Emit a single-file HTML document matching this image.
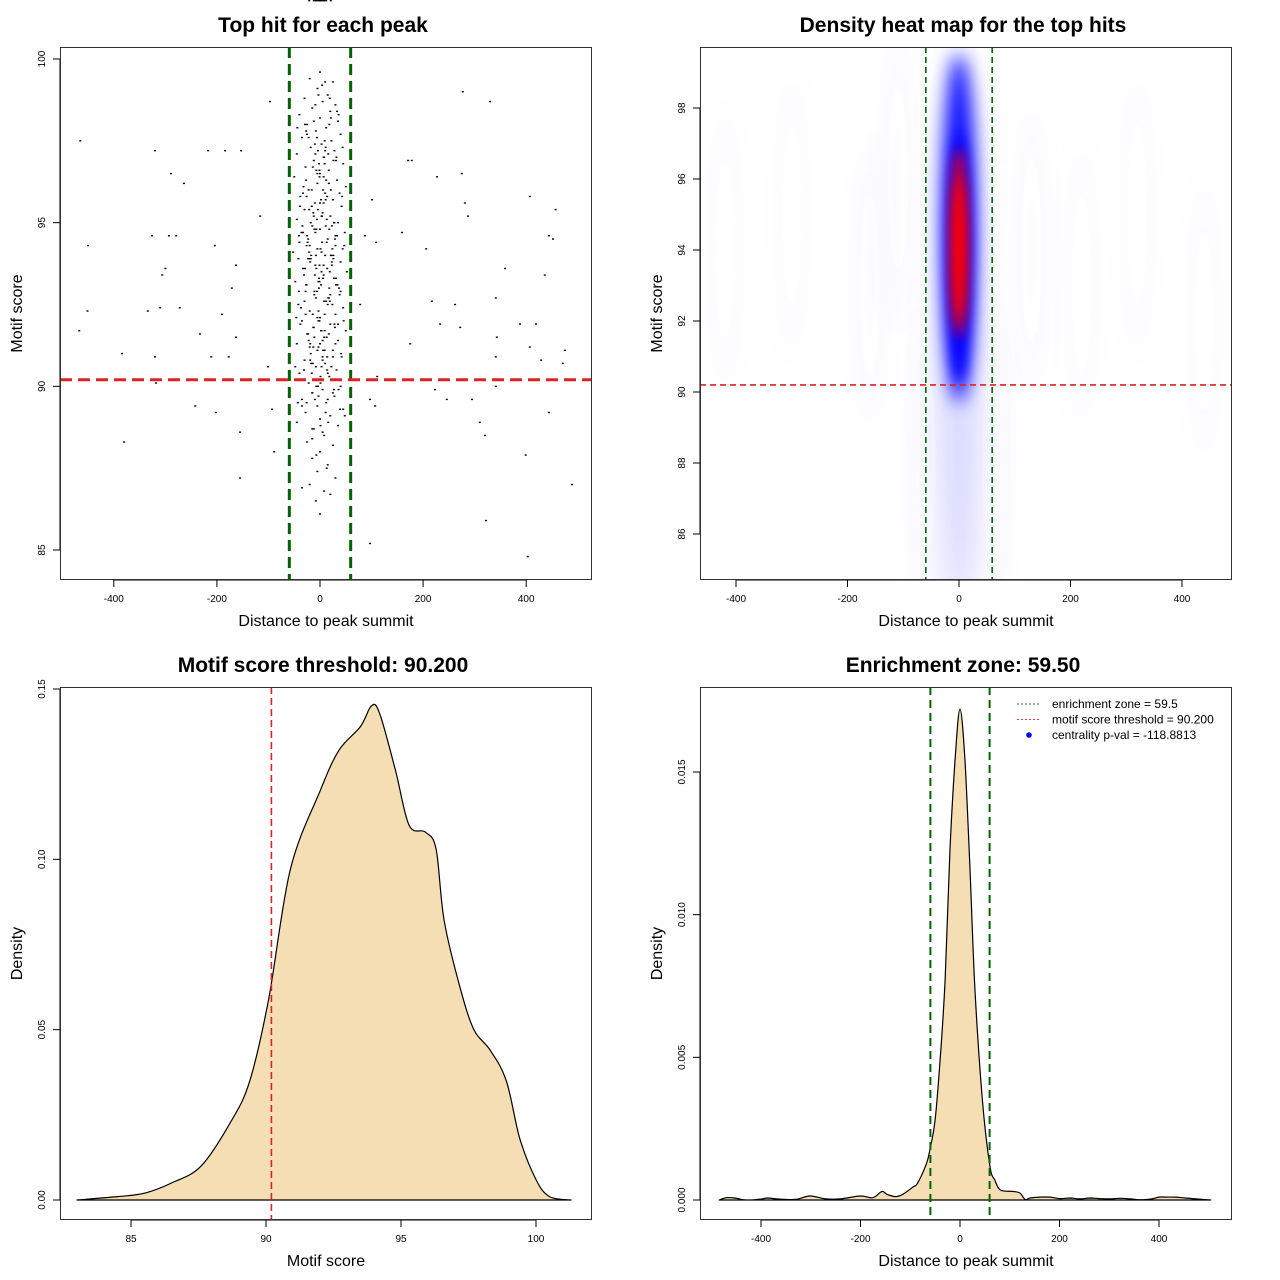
<!DOCTYPE html>
<html><head><meta charset="utf-8"><style>
html,body{margin:0;padding:0;background:#fff;}
svg{display:block;font-family:"Liberation Sans",sans-serif;}
</style></head><body>
<svg id="fig" width="1280" height="1280" viewBox="0 0 1280 1280" xmlns="http://www.w3.org/2000/svg">
<defs>
<filter id="blurA" x="-50%" y="-50%" width="200%" height="200%"><feGaussianBlur stdDeviation="9"/></filter>
<filter id="blurB" x="-100%" y="-50%" width="300%" height="200%"><feGaussianBlur stdDeviation="6"/></filter>
<filter id="blurC" x="-100%" y="-50%" width="300%" height="200%"><feGaussianBlur stdDeviation="14"/></filter>
<clipPath id="clip2"><rect x="700" y="47" width="532" height="533"/></clipPath>
</defs>
</svg>
<script>
// ---------- data ----------
const scatterX = [-465,-450,-451,-467,-384,-380,-320,-326,-293,-279,-289,-264,-300,-306,-334,-310,-272,-320,-318,-217,-184,-242,-202,-190,-204,-153,-155,-155,-211,-177,-116,-97,-93,-101,-89,-171,-163,-233,-163,171,227,275,277,330,407,457,444,452,281,287,359,341,436,262,217,206,159,109,87,78,175,233,272,388,419,343,341,429,475,471,444,407,341,295,310,320,246,223,107,97,111,322,403,399,489,97,101,178,
0,-20,10,25,-5,15,-30,5,30,-15,20,-40,0,35,-25,12,-8,40,-35,22,3,-18,28,-45,8,-12,45,-28,17,0,-50,33,-5,50,-22,10,-38,25,-10,42,-30,5,20,-45,35,-15,0,48,-25,15,-40,30,-5,-52,22,-18,40,7,-33,52,-10,27,-48,2,18,-28,38,-8,12,-42,45,-20,30,0,-35,20,-12,50,-25,8,35,-45,-3,25,-18,42,-30,10,-8,32,-40,18,0,-22,40,5,-15,28,-35,12,-5,45,-28,20,0,-45,35,-12,8,-25,25,0,-15,15,-5,30,-20,8,-8,0,20,-35,
-3,18,-22,32,-2,12,-32,38,-16,28,-36,4,44,-20,14,-42,34,-6,24,-30,46,-14,2,-38,30,-22,14,-48,22,-4,36,-26,16,-10,26,-26,6,36,-12,44,-44,16,-34,10,-2,40,-46,6,-16,48,-6,26,-26,20,-12,30,0,-8,14,-20,
4,-9,21,-27,9,-4,31,-14,-1,17,-33,11,-21,3,27,-7,-41,13,1,-17,23,-29,7,-3,37,-11,19,-37,9,-1,29,-23,5,-13,41,-19,3,15,-31,-7,25,-43,11,1,-15,33,-25,7,-5,21,-39,13,-9,47,-21,3,-27,17,-3,35,-11,9,-17,1,27,-35,5,-7,19,-29,11,-1,43,-13,23,-23,3,-9,31,-41,15,-5,9,-19,25,-31,1,-3,39,-15,13,-27,7,-11,21,-1,-37,17,5,-7,29,-21,
-1,6,-6,11,-11,16,-16,2,-2,8,-24,24,-13,13,-4,4,-19,19,-9,9,-28,28,0,-33,33,-14,14,-7,7,-23,23,-3,3,-18,18,-10,10,-31,31,-5,5,-15,15,-26,26,-8,8,-2,2,-12,12,-21,21,0,-6,6];
const scatterY = [97.5,94.3,92.3,91.7,91.0,88.3,97.2,94.6,94.6,94.6,96.5,96.2,93.6,93.4,92.3,92.4,92.4,90.9,90.1,97.2,97.2,89.4,89.2,92.2,94.3,97.2,88.6,87.2,90.9,90.9,95.2,98.7,89.3,90.6,88.0,93.0,93.7,91.6,91.5,96.9,96.4,96.5,99.0,98.7,95.8,95.4,94.6,94.5,95.6,95.2,93.6,92.7,93.4,92.5,92.6,94.2,94.7,94.4,94.6,92.5,91.3,91.9,91.8,91.9,91.9,91.5,90.9,90.8,91.1,90.7,89.2,91.2,90.0,89.6,88.9,88.5,89.6,89.9,89.4,89.6,90.3,85.9,84.8,87.9,87.0,85.2,95.7,96.9,
99.6,99.4,99.3,99.3,99.1,98.9,98.8,98.7,98.6,98.5,98.4,98.3,98.2,98.1,98.0,97.9,97.8,97.7,97.6,97.5,97.4,97.3,97.2,97.1,97.0,96.9,96.8,96.7,96.6,96.5,96.4,96.3,96.2,96.1,96.0,95.9,95.8,95.7,95.6,95.5,95.4,95.3,95.2,95.1,95.0,94.9,94.8,94.7,94.6,94.5,94.4,94.3,94.2,94.1,94.0,93.9,93.8,93.7,93.6,93.5,93.4,93.3,93.2,93.1,93.0,92.9,92.8,92.7,92.6,92.5,92.4,92.3,92.2,92.1,92.0,91.9,91.8,91.7,91.6,91.5,91.4,91.3,91.2,91.1,91.0,90.9,90.8,90.7,90.6,90.5,90.4,90.3,90.2,90.1,90.0,89.9,89.8,89.7,89.6,89.5,89.4,89.3,89.2,89.1,89.0,88.9,88.8,88.7,88.5,88.3,88.2,88.0,87.8,87.6,87.4,87.2,87.0,86.8,86.5,86.1,86.7,86.9,
98.9,98.0,97.6,97.0,96.8,96.3,96.1,95.9,95.5,95.0,94.7,94.4,94.2,94.3,93.6,93.9,93.1,92.9,92.5,92.6,92.0,92.2,91.7,91.9,91.3,91.4,90.9,90.6,90.6,90.0,89.9,89.5,88.9,89.6,93.9,95.8,96.0,98.3,98.1,97.3,97.9,97.1,94.9,94.0,93.3,92.9,92.1,91.1,90.4,89.1,97.6,96.9,93.1,92.8,95.2,94.6,95.6,94.0,95.8,91.2,
99.2,98.6,98.2,97.8,97.5,97.2,96.9,96.7,96.4,96.2,95.9,95.7,95.4,95.2,95.0,94.8,94.6,94.4,94.2,94.0,93.8,93.6,93.4,93.2,93.0,92.8,92.6,92.4,92.2,92.0,91.8,91.6,91.4,91.2,91.0,90.8,90.6,90.4,90.2,90.0,89.8,89.5,89.2,88.8,88.4,98.4,97.7,97.0,96.5,96.0,95.5,95.1,94.7,94.3,93.9,93.5,93.1,92.7,92.3,91.9,91.5,91.1,90.7,90.3,89.9,89.4,88.6,87.9,98.8,98.0,97.3,96.6,95.8,95.3,94.9,94.5,94.1,93.7,93.3,92.9,92.5,92.1,91.7,91.3,90.9,90.5,90.1,89.7,89.3,88.7,87.5,96.3,95.6,94.8,94.0,93.2,92.4,91.6,90.8,93.6,
94.5,94.1,93.7,93.3,95.1,94.9,92.9,92.7,96.0,95.7,93.0,92.6,94.4,94.2,91.8,91.5,95.4,95.2,93.8,93.5,97.1,96.8,92.2,91.9,91.3,94.7,94.6,90.7,90.5,96.6,96.4,93.9,93.7,92.0,91.7,95.0,94.8,97.4,97.2,93.4,93.1,91.1,90.9,89.8,89.6,94.3,94.0];
const scoreThreshold = 90.2;
const enrichZone = 59.5;
// motif score density
const scoreX = [83,84.5,85.5,86.5,87.6,88.7,89.4,90.1,90.9,92.0,92.7,93.5,93.9,94.2,94.8,95.3,95.9,96.3,96.6,97.2,97.7,98.3,98.9,99.4,100.0,100.5,101.3];
const scoreD = [0,0.001,0.002,0.005,0.010,0.023,0.035,0.059,0.097,0.120,0.132,0.139,0.145,0.143,0.126,0.110,0.108,0.103,0.082,0.062,0.050,0.044,0.035,0.018,0.006,0.001,0];
// distance density
const distX = [-484,-470,-453,-430,-400,-387,-363,-330,-302,-270,-240,-200,-175,-157,-147,-130,-115,-95,-85,-67,-60,-50,-40,-30,-20,-10,0,10,20,30,45,60,70,81,105,120,131,141,160,181,200,222,240,262,280,302,320,343,360,383,400,413,433,453,480,504];
const distD = [0,0.00008,0.00007,0.0,0.00003,0.00007,0.00003,0.00002,0.00014,0.00004,0.00004,0.00014,0.00008,0.0003,0.0002,0.00012,0.0002,0.00045,0.0006,0.0013,0.0018,0.0028,0.0049,0.0077,0.0123,0.0154,0.0172,0.0154,0.0116,0.0074,0.0035,0.0012,0.0007,0.00035,0.0003,0.00025,0.00002,0.00007,0.0001,0.0001,0.00005,0.00007,0.00004,0.00007,0.00005,0.00004,0.00006,0.00004,0.00001,0.00003,0.0001,0.0001,0.0001,0.00007,0.00003,0];

// ---------- helpers ----------
const NS="http://www.w3.org/2000/svg";
const svg=document.getElementById('fig');
function mk(tag,attrs,parent){const e=document.createElementNS(NS,tag);for(const k in attrs)e.setAttribute(k,attrs[k]);(parent||svg).appendChild(e);return e;}
function lin(d0,d1,p0,p1){return v=>p0+(v-d0)*(p1-p0)/(d1-d0);}
function smoothPath(px,py){
  let d='M'+px[0].toFixed(1)+','+py[0].toFixed(1);
  for(let i=0;i<px.length-1;i++){
    const x0=px[Math.max(0,i-1)],y0=py[Math.max(0,i-1)],x1=px[i],y1=py[i],x2=px[i+1],y2=py[i+1],x3=px[Math.min(px.length-1,i+2)],y3=py[Math.min(px.length-1,i+2)];
    const c1x=x1+(x2-x0)/6,c1y=y1+(y2-y0)/6,c2x=x2-(x3-x1)/6,c2y=y2-(y3-y1)/6;
    d+=` C${c1x.toFixed(1)},${c1y.toFixed(1)} ${c2x.toFixed(1)},${c2y.toFixed(1)} ${x2.toFixed(1)},${y2.toFixed(1)}`;
  }
  return d;
}

function panel(o){
  const g=mk('g',{});
  
  
  const t=mk('text',{x:o.L+(o.R-o.L)/2-3,y:o.T-15,'text-anchor':'middle','font-size':'21','font-weight':'bold'},g);
  t.textContent=o.title;
  
  
  const xl=mk('text',{x:o.L+(o.R-o.L)/2,y:o.B+46,'text-anchor':'middle','font-size':'16'},g);
  xl.textContent=o.xlab;
  
  
  const yl=mk('text',{x:0,y:0,'text-anchor':'middle','font-size':'16',transform:`translate(${o.L-38},${(o.T+o.B)/2}) rotate(-90)`},g);
  yl.textContent=o.ylab;
  
  
  const xa=mk('g',{},g);
  
  
  const xs=o.xticks.map(o.sx);
  mk('line',{x1:xs[0],x2:xs[xs.length-1],y1:o.B,y2:o.B,stroke:'#000'},xa);
  o.xticks.forEach((v,i)=>{
    mk('line',{x1:xs[i],x2:xs[i],y1:o.B,y2:o.B+7,stroke:'#000'},xa);
    const tl=mk('text',{x:xs[i],y:o.B+22,'text-anchor':'middle','font-size':'10'},xa);
    tl.textContent=o.xlabels[i];
    
    
  });
  const ya=mk('g',{},g);
  
  
  const ys=o.yticks.map(o.sy);
  mk('line',{x1:o.L,x2:o.L,y1:ys[0],y2:ys[ys.length-1],stroke:'#000'},ya);
  o.yticks.forEach((v,i)=>{
    mk('line',{x1:o.L,x2:o.L-7,y1:ys[i],y2:ys[i],stroke:'#000'},ya);
    const tl=mk('text',{x:0,y:0,'text-anchor':'middle','font-size':'10',transform:`translate(${o.L-15},${ys[i]}) rotate(-90)`},ya);
    tl.textContent=o.ylabels[i];
    
    
  });
  return g;
}
function box(g,L,T,R,B){
  const r=mk('rect',{x:L+0.5,y:T+0.5,width:R-L-1,height:B-T-1,fill:'none',stroke:'#333'},g);
  
  
}
function vline(g,x,T,B,color,w,dash,name){const l=mk('line',{x1:x,x2:x,y1:T,y2:B,stroke:color,'stroke-width':w,'stroke-dasharray':dash},g);}
function hline(g,y,L,R,color,w,dash,name){const l=mk('line',{x1:L,x2:R,y1:y,y2:y,stroke:color,'stroke-width':w,'stroke-dasharray':dash},g);}

// ---------- panel 1: scatter ----------
(function(){
  const sx=lin(0,400,320,526.2), sy=lin(100,85,59,550);
  const g=panel({name:'scatter-panel',title:'Top hit for each peak',xlab:'Distance to peak summit',ylab:'Motif score',L:60,T:47,R:592,B:580,sx,sy,
    xticks:[-400,-200,0,200,400],xlabels:['-400','-200','0','200','400'],yticks:[85,90,95,100],ylabels:['85','90','95','100']});
  const pts=mk('g',{fill:'#000'},g);
  
  
  for(let i=0;i<scatterX.length;i++){
    const r=mk('rect',{x:sx(scatterX[i])-1,y:sy(scatterY[i])-0.7,width:2,height:1.4},pts);
    
    
  }
  vline(g,sx(-enrichZone),47,580,'#006400',3,'11 6','enrichment-left-line');
  vline(g,sx(enrichZone),47,580,'#006400',3,'11 6','enrichment-right-line');
  hline(g,sy(scoreThreshold),60,592,'#dd2222',3,'12 6','threshold-line');
  box(g,60,47,592,580);
})();

// ---------- panel 2: heat map ----------
(function(){
  const sx=lin(0,400,959,1182), sy=lin(98,86,108,534);
  const g=panel({name:'heatmap-panel',title:'Density heat map for the top hits',xlab:'Distance to peak summit',ylab:'Motif score',L:700,T:47,R:1232,B:580,sx,sy,
    xticks:[-400,-200,0,200,400],xlabels:['-400','-200','0','200','400'],yticks:[86,88,90,92,94,96,98],ylabels:['86','88','90','92','94','96','98']});
  const hm=mk('g',{'clip-path':'url(#clip2)'},g);
  
  
  const cx=sx(0);
  [[-420,94,0.02],[-300,95,0.02],[-160,93,0.025],[-110,96,0.025],[130,94,0.025],[220,93,0.02],[320,95,0.02],[440,92,0.02],[-60,88,0.03],[60,88,0.03]].forEach(s=>{
    mk('ellipse',{cx:sx(s[0]),cy:sy(s[1]),rx:12,ry:150,fill:'#5050ff','fill-opacity':s[2],filter:'url(#blurC)'},hm);
  });
  mk('ellipse',{cx:cx,cy:sy(91.5),rx:20,ry:290,fill:'#b0b0ff','fill-opacity':0.5,filter:'url(#blurC)'},hm);
  mk('ellipse',{cx:cx,cy:sy(94.6),rx:17,ry:175,fill:'#0000ff','fill-opacity':0.95,filter:'url(#blurA)'},hm);
  mk('ellipse',{cx:cx,cy:sy(93.8),rx:11,ry:125,fill:'#0000ff',filter:'url(#blurB)'},hm);
  mk('ellipse',{cx:cx,cy:sy(94.2),rx:8,ry:95,fill:'#ff0000',filter:'url(#blurB)'},hm);
  mk('ellipse',{cx:cx,cy:sy(94.0),rx:5,ry:70,fill:'#ff0000',filter:'url(#blurB)'},hm);
  vline(g,sx(-enrichZone),47,580,'#006400',1.6,'6 4','enrichment-left-line');
  vline(g,sx(enrichZone),47,580,'#006400',1.6,'6 4','enrichment-right-line');
  hline(g,sy(scoreThreshold),700,1232,'#dd2222',1.6,'6 4','threshold-line');
  box(g,700,47,1232,580);
})();

// ---------- panel 3: score density ----------
(function(){
  const sx=lin(85,100,131,536), sy=lin(0,0.15,1200,689);
  const g=panel({name:'score-density-panel',title:'Motif score threshold: 90.200',xlab:'Motif score',ylab:'Density',L:60,T:687,R:592,B:1220,sx,sy,
    xticks:[85,90,95,100],xlabels:['85','90','95','100'],yticks:[0,0.05,0.10,0.15],ylabels:['0.00','0.05','0.10','0.15']});
  const d=smoothPath(scoreX.map(sx),scoreD.map(sy))+' Z';
  const p=mk('path',{d:d,fill:'#f5deb3',stroke:'#000','stroke-width':1.2,'stroke-linejoin':'round'},g);
  
  
  vline(g,sx(scoreThreshold),687,1220,'#dd2222',1.6,'7 4','threshold-line');
  box(g,60,687,592,1220);
})();

// ---------- panel 4: distance density ----------
(function(){
  const sx=lin(0,400,960,1159), sy=lin(0,0.015,1200,772);
  const g=panel({name:'distance-density-panel',title:'Enrichment zone: 59.50',xlab:'Distance to peak summit',ylab:'Density',L:700,T:687,R:1232,B:1220,sx,sy,
    xticks:[-400,-200,0,200,400],xlabels:['-400','-200','0','200','400'],yticks:[0,0.005,0.010,0.015],ylabels:['0.000','0.005','0.010','0.015']});
  const d=smoothPath(distX.map(sx),distD.map(sy))+' Z';
  const p=mk('path',{d:d,fill:'#f5deb3',stroke:'#000','stroke-width':1.2,'stroke-linejoin':'round'},g);
  
  
  vline(g,sx(-enrichZone),687,1220,'#006400',2,'8 5','enrichment-left-line');
  vline(g,sx(enrichZone),687,1220,'#006400',2,'8 5','enrichment-right-line');
  box(g,700,687,1232,1220);
  const lg=mk('g',{},g);
  
  
  const items=[['enrichment zone = 59.5','#206020','line'],['motif score threshold = 90.200','#ee3333','line'],['centrality p-val = -118.8813','#0000ff','dot']];
  items.forEach((it,i)=>{
    const y=704+i*15.5;
    const e=mk('g',{},lg);
    
    
    if(it[2]==='line')mk('line',{x1:1017,x2:1041,y1:y,y2:y,stroke:it[1],'stroke-width':1,'stroke-dasharray':'2 2'},e);
    else mk('circle',{cx:1029,cy:y,r:2.8,fill:it[1]},e);
    const t=mk('text',{x:1052,y:y+4,'font-size':'12'},e);
    t.textContent=it[0];
  });
})();
</script>
</body></html>
